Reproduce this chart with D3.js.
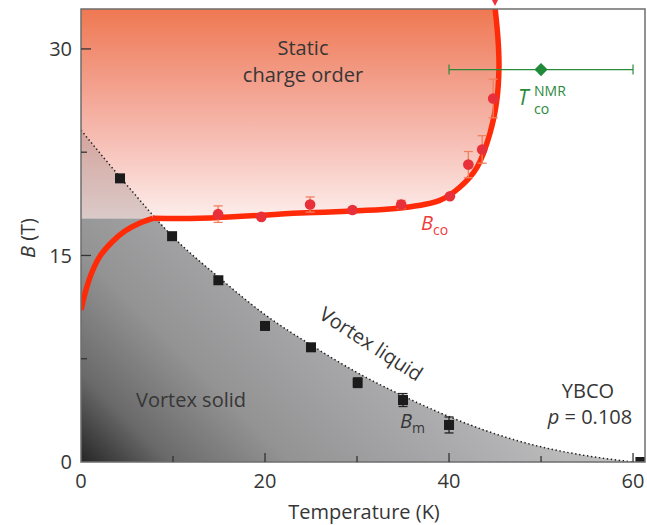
<!DOCTYPE html>
<html>
<head>
<meta charset="utf-8">
<script src="https://cdn.jsdelivr.net/npm/d3@7/dist/d3.min.js"></script>
<style>
  html, body { margin: 0; padding: 0; background: #fff; }
  svg { display: block; font-family: "Open Sans", "Noto Sans", sans-serif; }
</style>
</head>
<body>
<svg id="chart" width="647" height="525"></svg>
<script>
// ---------------- data ----------------
const tempTicks = [0, 20, 40, 60];
const tempMinorTicks = [10, 30, 50];
const fieldTicks = [0, 15, 30];
const fieldMinorTicks = [7.5, 22.5];

// vortex melting field B_m (squares)
const bmT   = [4.24, 9.9, 14.93, 20.0, 25.0, 30.07, 35.0, 40.0, 60.8];
const bmB   = [20.6, 16.4, 13.2, 9.88, 8.33, 5.76, 4.5, 2.69, 0.0];
const bmErr = [0, 0, 0, 0, 0.2, 0.35, 0.47, 0.58, 0];

// dotted B_m guide line
const bmFitT = [0, 5, 10, 15, 20, 25, 30, 35, 40, 45, 50, 55, 60];
const bmFitB = [24.1, 20.1, 16.35, 13.4, 10.7, 8.5, 6.5, 4.8, 3.3, 2.05, 1.1, 0.45, 0];

// charge-order field B_co (circles)
const bcoT   = [14.9, 19.6, 24.9, 29.5, 34.8, 40.1, 42.1, 43.6, 44.8];
const bcoB   = [18.0, 17.8, 18.7, 18.3, 18.7, 19.3, 21.6, 22.7, 26.4];
const bcoErr = [0.6, 0.2, 0.55, 0.2, 0.3, 0.2, 0.95, 1.0, 1.4];

// thick B_co boundary: low-T branch and main branch
const bcoLowT = [0, 0.54, 1.2, 2.07, 3.37, 4.78, 6.41, 7.83];
const bcoLowB = [11.04, 12.5, 13.8, 14.96, 15.98, 16.78, 17.36, 17.7];
const bcoMainT = [7.83, 12.9, 23.8, 34.67, 39.0, 41.2, 43.04, 44.46, 45.2, 45.43, 45.33, 45.0];
const bcoMainB = [17.7, 17.7, 18.08, 18.44, 19.0, 19.97, 21.4, 23.9, 26.3, 28.7, 30.65, 33.0];

// NMR point
const nmrT = [50], nmrB = [28.5], nmrTmin = [40], nmrTmax = [60];

// ---------------- setup ----------------
const svg = d3.select("#chart");
const x = d3.scaleLinear().domain([0, 61.3]).range([81, 645]);
const y = d3.scaleLinear().domain([0, 32.9]).range([462, 9]);
const [x0, x1] = x.range();
const [y0, y1] = y.range();
const textCol = "#363636";

const defs = svg.append("defs");
defs.append("clipPath").attr("id", "plotClip")
  .append("rect").attr("x", x0).attr("y", y1).attr("width", x1 - x0).attr("height", y0 - y1);
defs.append("clipPath").attr("id", "belowCo")
  .append("rect").attr("x", x0).attr("y", y(17.7)).attr("width", x1 - x0).attr("height", y0 - y(17.7));
defs.append("clipPath").attr("id", "aboveCo")
  .append("rect").attr("x", x0).attr("y", y1).attr("width", x1 - x0).attr("height", y(17.7) - y1);

const gGray = defs.append("linearGradient").attr("id", "grayGrad")
  .attr("gradientUnits", "userSpaceOnUse")
  .attr("x1", x0).attr("y1", y0).attr("x2", x0 + 300).attr("y2", y0 - 300);
[[0, "#262626"], [0.15, "#6a6a6a"], [0.35, "#939394"], [0.65, "#ababad"], [1, "#cbcbcb"]]
  .forEach(([o, c]) => gGray.append("stop").attr("offset", o).attr("stop-color", c));

const gRed = defs.append("linearGradient").attr("id", "redGrad")
  .attr("gradientUnits", "userSpaceOnUse")
  .attr("x1", 0).attr("y1", y1).attr("x2", 0).attr("y2", y(17.7));
[[0, "#ef7852"], [0.3, "#f29983"], [0.62, "#f6bdb3"], [1, "#fdeeec"]]
  .forEach(([o, c]) => gRed.append("stop").attr("offset", o).attr("stop-color", c));

const plot = svg.append("g").attr("clip-path", "url(#plotClip)");

// ---------------- shaded regions ----------------
const bmFit = bmFitT.map((t, i) => [t, bmFitB[i]]);
const grayArea = d3.area().x(d => x(d[0])).y0(y(0)).y1(d => y(d[1])).curve(d3.curveMonotoneX);
const lineSmooth = d3.line().x(d => x(d[0])).y(d => y(d[1])).curve(d3.curveMonotoneX);

plot.append("path").datum(bmFit).attr("d", grayArea)
  .attr("fill", "url(#grayGrad)").attr("clip-path", "url(#belowCo)");

const bcoMain = bcoMainT.map((t, i) => [t, bcoMainB[i]]);
const lineCR = d3.line().x(d => x(d[0])).y(d => y(d[1])).curve(d3.curveCatmullRom);

// red region: left edge, top, down the boundary, back along B = 17.7
const mainPath = lineCR(bcoMain);
const redD = `M${x(0)},${y(17.7)} ` +
  mainPath.replace(/^M/, "L") +
  ` L${x(bcoMainT[bcoMainT.length - 1])},${y1 - 5} L${x(0)},${y1 - 5} Z`;
plot.append("path").attr("d", redD).attr("fill", "url(#redGrad)");

// translucent gray over red (vortex liquid extension)
plot.append("g").attr("clip-path", "url(#aboveCo)")
  .append("path").datum(bmFit).attr("d", grayArea)
  .attr("fill", "#8c7878").attr("opacity", 0.3);

// dotted B_m line
plot.append("path").datum(bmFit).attr("d", lineSmooth)
  .attr("fill", "none").attr("stroke", "#1e1e1e").attr("stroke-width", 1.5)
  .attr("stroke-dasharray", "1.4,2.6");

// thick B_co line
const bcoLow = bcoLowT.map((t, i) => [t, bcoLowB[i]]);
plot.append("path").datum(bcoLow).attr("d", lineCR)
  .attr("fill", "none").attr("stroke", "#ff2a08").attr("stroke-width", 5.5);
plot.append("path").datum(bcoMain).attr("d", lineCR)
  .attr("fill", "none").attr("stroke", "#ff2a08").attr("stroke-width", 5.5);

// ---------------- markers ----------------
// B_co circles with error bars
const bco = bcoT.map((t, i) => ({ t, b: bcoB[i], e: bcoErr[i] }));
const errCol = "#f0805e";
const eb = plot.append("g").attr("stroke", errCol).attr("stroke-width", 1.3);
bco.filter(d => d.e > 0.25).forEach(d => {
  eb.append("line").attr("x1", x(d.t)).attr("x2", x(d.t)).attr("y1", y(d.b - d.e)).attr("y2", y(d.b + d.e));
  [d.b - d.e, d.b + d.e].forEach(v =>
    eb.append("line").attr("x1", x(d.t) - 4.5).attr("x2", x(d.t) + 4.5).attr("y1", y(v)).attr("y2", y(v)));
});
plot.append("g").selectAll("circle").data(bco).join("circle")
  .attr("cx", d => x(d.t)).attr("cy", d => y(d.b)).attr("r", 5.3)
  .attr("fill", "#e8303a");

// B_m squares with error bars
const bm = bmT.map((t, i) => ({ t, b: bmB[i], e: bmErr[i] }));
const ebk = plot.append("g").attr("stroke", "#222").attr("stroke-width", 1.3);
bm.filter(d => d.e > 0.25).forEach(d => {
  ebk.append("line").attr("x1", x(d.t)).attr("x2", x(d.t)).attr("y1", y(d.b - d.e)).attr("y2", y(d.b + d.e));
  [d.b - d.e, d.b + d.e].forEach(v =>
    ebk.append("line").attr("x1", x(d.t) - 4.5).attr("x2", x(d.t) + 4.5).attr("y1", y(v)).attr("y2", y(v)));
});
plot.append("g").selectAll("rect").data(bm).join("rect")
  .attr("x", d => x(d.t) - 5).attr("y", d => y(d.b) - 5).attr("width", 10).attr("height", 10)
  .attr("fill", "#1b1b1b");

// NMR point
const green = "#2b8a3c";
nmrT.forEach((t, i) => {
  const g = plot.append("g");
  g.append("line").attr("x1", x(nmrTmin[i])).attr("x2", x(nmrTmax[i]))
    .attr("y1", y(nmrB[i])).attr("y2", y(nmrB[i])).attr("stroke", green).attr("stroke-width", 1.2);
  [nmrTmin[i], nmrTmax[i]].forEach(v =>
    g.append("line").attr("x1", x(v)).attr("x2", x(v)).attr("y1", y(nmrB[i]) - 5).attr("y2", y(nmrB[i]) + 5)
      .attr("stroke", green).attr("stroke-width", 1.2));
  g.append("path").attr("d", d3.symbol(d3.symbolDiamond2, 110)())
    .attr("transform", `translate(${x(t)},${y(nmrB[i])})`).attr("fill", "#1f8a3a");
});

// ---------------- frame and ticks ----------------
svg.append("rect").attr("x", x0).attr("y", y1).attr("width", x1 - x0).attr("height", y0 - y1)
  .attr("fill", "none").attr("stroke", "#6e6e6e").attr("stroke-width", 1.5);

// small arrow mark above the frame where B_co leaves the plot
const tipX = x(bcoMainT[bcoMainT.length - 1]);
svg.append("path").attr("d", `M${tipX - 3},${y1 - 9} L${tipX + 3},${y1 - 9} L${tipX},${y1 - 3} Z`)
  .attr("fill", "#f0303a");

const ticks = svg.append("g").attr("stroke", "#333").attr("stroke-width", 1.3);
tempTicks.filter(t => t > 0 && t < 61).forEach(t =>
  ticks.append("line").attr("x1", x(t)).attr("x2", x(t)).attr("y1", y0).attr("y2", y0 - 9));
tempMinorTicks.forEach(t =>
  ticks.append("line").attr("x1", x(t)).attr("x2", x(t)).attr("y1", y0).attr("y2", y0 - 6));
fieldTicks.filter(b => b > 0).forEach(b =>
  ticks.append("line").attr("x1", x0).attr("x2", x0 + 10).attr("y1", y(b)).attr("y2", y(b)));
fieldMinorTicks.forEach(b =>
  ticks.append("line").attr("x1", x0).attr("x2", x0 + 6).attr("y1", y(b)).attr("y2", y(b)));

const fs = 20;
svg.append("g").selectAll("text").data(tempTicks).join("text")
  .attr("x", d => x(d)).attr("y", 488).attr("text-anchor", "middle")
  .attr("font-size", fs).attr("fill", textCol).text(d => d);
svg.append("g").selectAll("text").data(fieldTicks).join("text")
  .attr("x", 72).attr("y", d => y(d)).attr("dy", "0.36em").attr("text-anchor", "end")
  .attr("font-size", fs).attr("fill", textCol).text(d => d);

// axis titles
svg.append("text").attr("x", 364).attr("y", 519).attr("text-anchor", "middle")
  .attr("font-size", fs).attr("fill", textCol).text("Temperature (K)");
const yt = svg.append("text").attr("transform", "translate(35,238) rotate(-90)")
  .attr("text-anchor", "middle").attr("font-size", fs).attr("fill", textCol);
yt.append("tspan").attr("font-style", "italic").text("B");
yt.append("tspan").text(" (T)");

// ---------------- region labels ----------------
svg.append("text").attr("x", 303).attr("y", 55).attr("text-anchor", "middle")
  .attr("font-size", fs).attr("fill", textCol).text("Static");
svg.append("text").attr("x", 303).attr("y", 82).attr("text-anchor", "middle")
  .attr("font-size", fs).attr("fill", textCol).text("charge order");
svg.append("text").attr("x", 191).attr("y", 407).attr("text-anchor", "middle")
  .attr("font-size", fs).attr("fill", textCol).text("Vortex solid");
svg.append("text").attr("transform", "translate(371,344) rotate(33)").attr("dy", "0.35em")
  .attr("text-anchor", "middle").attr("font-size", fs).attr("fill", textCol).text("Vortex liquid");

svg.append("text").attr("x", 588).attr("y", 398).attr("text-anchor", "middle")
  .attr("font-size", fs).attr("fill", textCol).text("YBCO");
const pt = svg.append("text").attr("x", 590).attr("y", 424).attr("text-anchor", "middle")
  .attr("font-size", fs).attr("fill", textCol);
pt.append("tspan").attr("font-style", "italic").text("p");
pt.append("tspan").text(" = 0.108");

// B_m label
const bml = svg.append("text").attr("x", 400).attr("y", 428).attr("font-size", fs).attr("fill", textCol);
bml.append("tspan").attr("font-style", "italic").text("B");
bml.append("tspan").attr("font-size", 14).attr("dy", 5).text("m");

// B_co label
const bcol = svg.append("text").attr("x", 421).attr("y", 230).attr("font-size", fs).attr("fill", "#f03c3c");
bcol.append("tspan").attr("font-style", "italic").text("B");
bcol.append("tspan").attr("font-size", 14).attr("dy", 5).text("co");

// T_co^NMR label
svg.append("text").attr("x", 518).attr("y", 105).attr("font-size", 21).attr("font-style", "italic")
  .attr("fill", green).text("T");
svg.append("text").attr("x", 534).attr("y", 96).attr("font-size", 14).attr("fill", green).text("NMR");
svg.append("text").attr("x", 534).attr("y", 114).attr("font-size", 14).attr("fill", green).text("co");
</script>
</body>
</html>
